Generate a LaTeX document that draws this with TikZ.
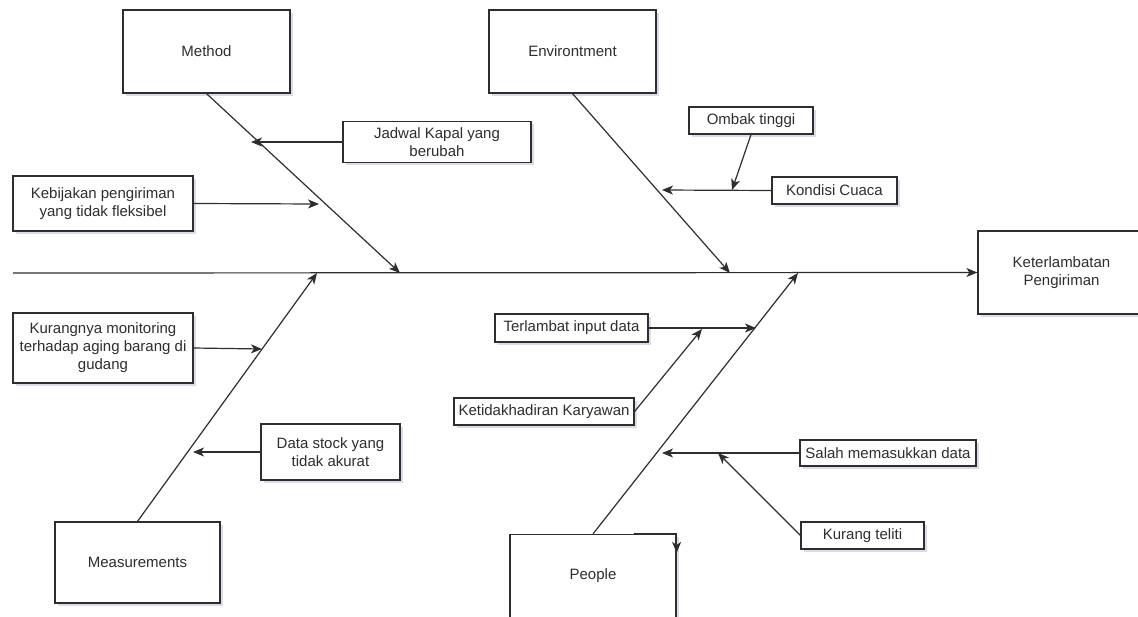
\documentclass[tikz,border=0pt]{standalone}
\usepackage{fontspec}
\setmainfont{Liberation Sans}
\usetikzlibrary{arrows.meta, calc, shadows}
\definecolor{inkgray}{HTML}{2E2E2E}
\tikzset{
  cause box/.style={
    draw=inkgray,
    fill=white,
    line width=1.2pt,
    text=inkgray,
    align=center,
    inner sep=2pt,
    font=\fontsize{15}{18}\selectfont,
    drop shadow={shadow xshift=2.5pt, shadow yshift=-2.5pt, opacity=0.22, fill=blue!30!gray}
  },
  bone/.style={
    -{Stealth[length=11pt, width=9pt, inset=3pt]},
    draw=inkgray,
    line width=1.2pt
  }
}

\begin{document}
\begin{tikzpicture}[x=1pt, y=-1pt]
    \useasboundingbox (0,0) rectangle (1138,616);

    % kategori utama
    \node[cause box, minimum width=167pt, minimum height=83pt] (method) at (206.5,51.5) {Method};
    \node[cause box, minimum width=167pt, minimum height=83pt] (env) at (572.5,51.5) {Environtment};
    \node[cause box, minimum width=165pt, minimum height=81pt] (meas) at (137.5,562.5) {Measurements};
    \node[cause box, minimum width=166pt, minimum height=83pt] (people) at (593,576) {People};
    \node[cause box, minimum width=167pt, minimum height=83pt] (effect) at (1061.5,272.5) {Keterlambatan\\Pengiriman};

    % penyebab
    \node[cause box, minimum width=188pt, minimum height=41pt] (jadwal) at (437,142) {Jadwal Kapal yang\\berubah};
    \node[cause box, minimum width=180pt, minimum height=55pt] (kebijakan) at (103,203.5) {Kebijakan pengiriman\\yang tidak fleksibel};
    \node[cause box, minimum width=124pt, minimum height=27pt] (ombak) at (751,120.5) {Ombak tinggi};
    \node[cause box, minimum width=125pt, minimum height=27pt] (cuaca) at (834.5,190.5) {Kondisi Cuaca};
    \node[cause box, minimum width=180pt, minimum height=70pt] (monitoring) at (103,348) {Kurangnya monitoring\\terhadap aging barang di\\gudang};
    \node[cause box, minimum width=139pt, minimum height=56pt] (stock) at (330.5,452) {Data stock yang\\tidak akurat};
    \node[cause box, minimum width=153pt, minimum height=28pt] (terlambat) at (571.5,328) {Terlambat input data};
    \node[cause box, minimum width=180pt, minimum height=27pt] (absen) at (544,411.5) {Ketidakhadiran Karyawan};
    \node[cause box, minimum width=176pt, minimum height=26pt] (salah) at (888,453) {Salah memasukkan data};
    \node[cause box, minimum width=123pt, minimum height=27pt] (teliti) at (862.5,535.5) {Kurang teliti};

    % tulang utama
    \coordinate (tail) at (13,273);
    \coordinate (methodHead) at (400,273);
    \coordinate (envHead) at (730,273);
    \coordinate (measHead) at (317,273);
    \coordinate (peopleHead) at (798,273);
    \draw[bone] (tail) -- (effect.west);
    \draw[bone] (method.south) -- (methodHead);
    \draw[bone] (env.south) -- (envHead);
    \draw[bone] (meas.north) -- (measHead);
    \draw[bone] (people.north) -- (peopleHead);

    % panah penyebab
    \coordinate (jadwalTip) at (251,142);
    \coordinate (kebijakanTip) at (319,204);
    \coordinate (cuacaTip) at (662,190);
    \coordinate (ombakTip) at (732,190);
    \coordinate (monitoringTip) at (262,349);
    \coordinate (stockTip) at (193,452);
    \coordinate (terlambatTip) at (756,328);
    \coordinate (absenTip) at (702,329);
    \coordinate (salahTip) at (662,453);
    \coordinate (telitiTip) at (718,453);
    \draw[bone] (jadwal.west) -- (jadwalTip);
    \draw[bone] (kebijakan.east) -- (kebijakanTip);
    \draw[bone] (cuaca.west) -- (cuacaTip);
    \draw[bone] (ombak.south) -- (ombakTip);
    \draw[bone] (monitoring.east) -- (monitoringTip);
    \draw[bone] (stock.west) -- (stockTip);
    \draw[bone] (terlambat.east) -- (terlambatTip);
    \draw[bone] (absen.east) -- (absenTip);
    \draw[bone] (salah.west) -- (salahTip);
    \draw[bone] (teliti.west) -- (telitiTip);

    % panah kecil di pojok People
    \draw[bone] ($(people.north east)+(-43,0)$) -- (people.north east) -- ++(0,19);

  \end{tikzpicture}
\end{document}
